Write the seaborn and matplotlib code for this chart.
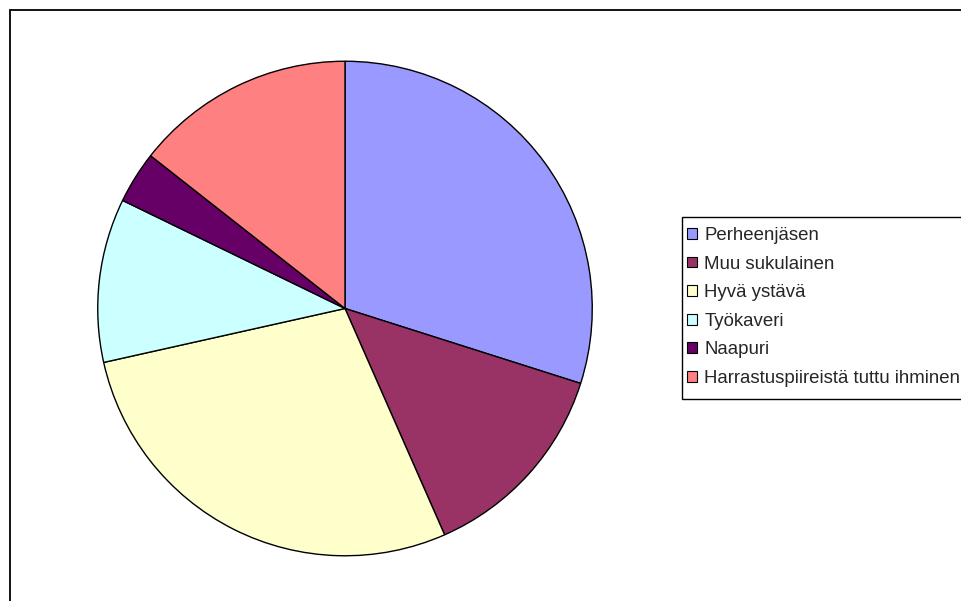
import matplotlib
matplotlib.use("Agg")
import matplotlib.pyplot as plt
from matplotlib.patches import Rectangle
import seaborn as sns

sns.set_theme(style="white")
plt.rcParams["font.family"] = ["Liberation Sans", "DejaVu Sans"]

categories = [
    "Perheenjäsen",
    "Muu sukulainen",
    "Hyvä ystävä",
    "Työkaveri",
    "Naapuri",
    "Harrastuspiireistä tuttu ihminen",
]
shares = [29.9, 13.5, 28.1, 10.7, 3.4, 14.4]
colors = ["#9999FF", "#993366", "#FFFFCC", "#CCFFFF", "#660066", "#FF8080"]

W, H = 962, 601
fig = plt.figure(figsize=(W / 100, H / 100), dpi=100)
fig.patch.set_facecolor("white")

# outer chart-area border (open to the right and bottom)
fig.add_artist(Rectangle((10 / W, -0.05), 1.2, 1.05 - 10 / H,
                         transform=fig.transFigure, fill=False,
                         edgecolor="black", linewidth=1.3))

cx, cy, r = 345, 308.5, 248.5
ax = fig.add_axes([(cx - r) / W, (H - cy - r) / H, 2 * r / W, 2 * r / H])
wedges, _ = ax.pie(shares, colors=colors, startangle=90, counterclock=False,
                   radius=1.0,
                   wedgeprops=dict(edgecolor="black", linewidth=1.0))
ax.set_xlim(-1.005, 1.005)
ax.set_ylim(-1.005, 1.005)
ax.set_aspect("equal")
ax.axis("off")

# legend box: open on the right where it runs past the figure edge
fig.add_artist(Rectangle((682 / W, 1 - 399 / H), 0.5, (399 - 217) / H,
                         transform=fig.transFigure, facecolor="white",
                         edgecolor="black", linewidth=1.0, zorder=2))

leg = fig.legend(wedges, categories, loc="upper left",
                 bbox_to_anchor=(682 / W, 1 - 222 / H),
                 bbox_transform=fig.transFigure,
                 fontsize=13.4, frameon=False,
                 handlelength=0.5, handleheight=0.5, handletextpad=0.42,
                 labelspacing=0.62, borderpad=0.28, borderaxespad=0)
leg.set_zorder(3)
for h in leg.legend_handles:
    h.set_linewidth(0.8)

fig.savefig("out.png", dpi=100)
